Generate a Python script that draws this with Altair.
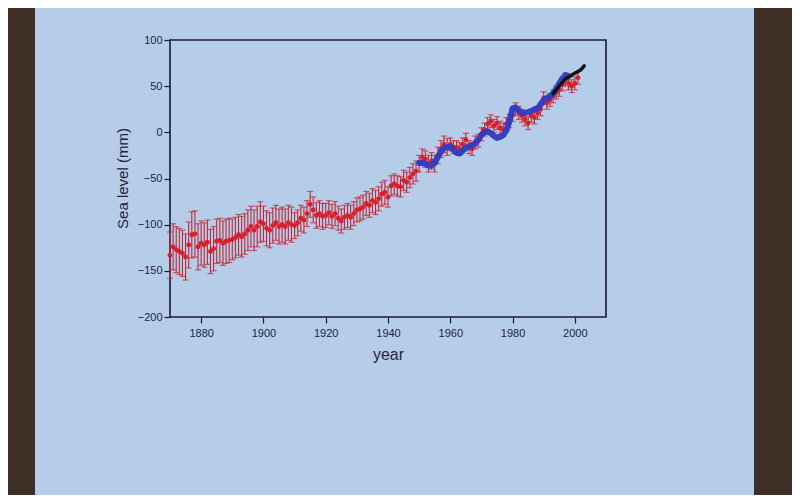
import altair as alt
import pandas as pd

# ---- data ----
red_years = list(range(1870, 2002))
red_vals = [
    -133, -124, -127, -129, -131, -135, -122, -111, -110, -124,  # 1870s
    -120, -122, -119, -129, -126, -118, -117, -120, -118, -117,  # 1880s
    -116, -114, -111, -113, -110, -106, -102, -106, -102, -97,   # 1890s
    -99, -104, -106, -101, -98, -102, -100, -102, -98, -100,     # 1900s
    -101, -98, -93, -95, -88, -78, -84, -90, -88, -91,           # 1910s
    -90, -87, -91, -88, -93, -96, -92, -90, -92, -88,            # 1920s
    -84, -83, -81, -77, -79, -74, -76, -72, -67, -65,            # 1930s
    -70, -58, -56, -58, -59, -52, -54, -49, -45, -42,            # 1940s
    -34, -27, -29, -34, -31, -34, -25, -18, -13, -16,            # 1950s
    -13, -16, -16, -18, -13, -8, -16, -18, -11, -9,              # 1960s
    -2, 3, 9, 12, 7, 10, 5, 3, 9, 12,                            # 1970s
    19, 25, 21, 18, 14, 10, 18, 16, 21, 25,                      # 1980s
    37, 32, 35, 39, 43, 46, 52, 57, 53, 50,                      # 1990s
    53, 59,                                                      # 2000s
]
# half-width of the error bars, by decade (1870s ... 2000s)
red_err_decades = [1870, 1880, 1890, 1900, 1910, 1920, 1930, 1940, 1950, 1960, 1970, 1980, 1990, 2000]
red_err_values = [25, 24, 22, 19, 14, 13, 13, 11, 9, 7, 7, 7, 7, 7]

blue_years = list(range(1950, 1999))
blue_vals = [
    -33, -33, -34, -36, -36, -33, -27, -21, -17, -16,
    -16, -19, -22, -23, -20, -17, -15, -14, -12, -8,
    -3, 0, 1, -1, -4, -6, -5, -3, 2, 12,
    26, 27, 24, 21, 21, 22, 23, 25, 26, 30,
    35, 37, 39, 42, 47, 53, 58, 62, 61,
]

black_years = [1993, 1994, 1995, 1996, 1997, 1998, 1999, 2000, 2001, 2002, 2003]
black_vals = [42, 46, 50, 54, 58, 60, 62, 64, 66, 68, 72]

x_ticks = [1880, 1900, 1920, 1940, 1960, 1980, 2000]
y_ticks = [-200, -150, -100, -50, 0, 50, 100]

# ---- tables ----
err_lookup = dict(zip(red_err_decades, red_err_values))
red_err = [err_lookup[(y // 10) * 10] for y in red_years]
red = pd.DataFrame({
    "year": red_years,
    "sea": red_vals,
    "lo": [v - e for v, e in zip(red_vals, red_err)],
    "hi": [v + e for v, e in zip(red_vals, red_err)],
})
blue = pd.DataFrame({"year": blue_years, "sea": blue_vals})
black = pd.DataFrame({"year": black_years, "sea": black_vals})

# dark room around the projected slide (decoration, pixels relative to plot area)
strips = pd.DataFrame({
    "x1": [-170, 584, -170],
    "x2": [-135, 640, 640],
    "y1": [-40, -40, 456],
    "y2": [480, 480, 480],
})

SLIDE = "#b6cdea"
DARK = "#3f2e26"
INK = "#23243a"
FRAME = "#1a1a36"
RED = "#d81f2a"
RED_BAR = "#c42533"
BLUE = "#2d3bc4"

xs = alt.Scale(domain=[1870, 2010], nice=False, zero=False)
ys = alt.Scale(domain=[-200, 100], nice=False, zero=False)

x_axis = alt.Axis(values=x_ticks, format="d", title="year", grid=False, domain=False,
                  tickSize=6, tickColor=FRAME, tickWidth=1.2, labelFontSize=11, labelColor=INK,
                  labelPadding=4, titleFontSize=16, titleFontWeight="normal",
                  titleColor=INK, titleX=218, titleY=37, titleBaseline="middle")
y_axis = alt.Axis(values=y_ticks, title="Sea level (mm)", grid=False, domain=False,
                  tickSize=6, tickColor=FRAME, tickWidth=1.2, labelFontSize=11, labelColor=INK,
                  labelPadding=2, titleFontSize=15, titleFontWeight="normal",
                  titleColor=INK, titleX=-48, titleY=138, titleAlign="center",
                  titleBaseline="middle")

base = alt.Chart(red)

bars = base.mark_rule(color=RED_BAR, strokeWidth=1.1).encode(
    x=alt.X("year:Q", scale=xs, axis=x_axis),
    y=alt.Y("lo:Q", scale=ys, axis=y_axis),
    y2="hi:Q",
)
caps_lo = base.mark_tick(color=RED_BAR, orient="horizontal", size=6, thickness=1.2).encode(
    x=alt.X("year:Q", scale=xs), y=alt.Y("lo:Q", scale=ys))
caps_hi = base.mark_tick(color=RED_BAR, orient="horizontal", size=6, thickness=1.2).encode(
    x=alt.X("year:Q", scale=xs), y=alt.Y("hi:Q", scale=ys))
dots = base.mark_circle(color=RED, size=24, opacity=1).encode(
    x=alt.X("year:Q", scale=xs), y=alt.Y("sea:Q", scale=ys))

blue_line = alt.Chart(blue).mark_line(color=BLUE, strokeWidth=6, strokeCap="round",
                                      strokeJoin="round", opacity=0.95).encode(
    x=alt.X("year:Q", scale=xs), y=alt.Y("sea:Q", scale=ys))
black_line = alt.Chart(black).mark_line(color="#111118", strokeWidth=3.5,
                                        strokeCap="round").encode(
    x=alt.X("year:Q", scale=xs), y=alt.Y("sea:Q", scale=ys))

room = alt.Chart(strips).mark_rect(color=DARK, clip=False).encode(
    x=alt.X("x1:Q", scale=None), x2="x2:Q",
    y=alt.Y("y1:Q", scale=None), y2="y2:Q",
)

chart = alt.layer(room, bars, caps_lo, caps_hi, dots, blue_line, black_line).properties(
    width=436, height=277,
    autosize=alt.AutoSizeParams(type="none"),
    padding={"left": 162, "top": 32, "right": 186, "bottom": 178},
    background=SLIDE,
).configure(
    font="Liberation Sans",
).configure_view(
    stroke=FRAME, strokeWidth=1.6, fill=SLIDE,
)

chart.save("out.html", embed_options={"renderer": "svg", "actions": False})
